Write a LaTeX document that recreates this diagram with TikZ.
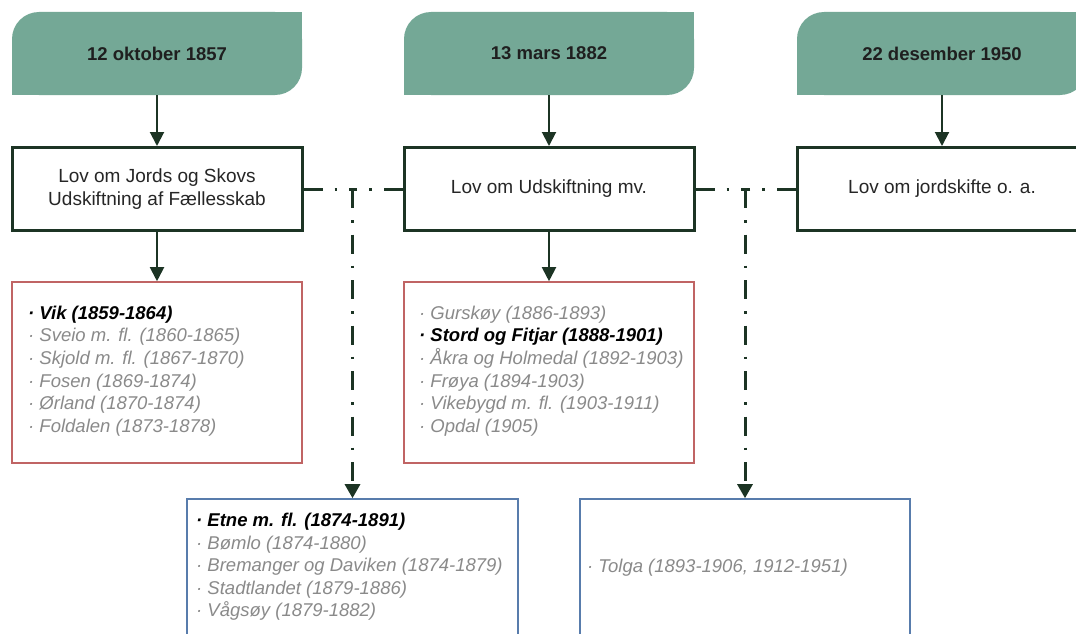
\documentclass[tikz,border=0pt]{standalone}
\usepackage{fontspec}
\setmainfont{Liberation Sans}
\usetikzlibrary{arrows.meta}
\definecolor{datefill}{RGB}{116,168,150}
\definecolor{lawdraw}{RGB}{28,52,36}
\definecolor{redline}{RGB}{192,100,100}
\definecolor{blueline}{RGB}{88,124,172}
\definecolor{greytext}{RGB}{138,138,138}
\newcommand{\hl}[1]{\textcolor{black}{\bfseries #1}}
\begin{document}
\begin{tikzpicture}[x=1pt,y=-1pt,
 datebox/.style={fill=datefill,rounded corners=27pt,minimum width=290pt,minimum height=83pt,inner sep=0pt,font=\fontsize{18.5}{22}\selectfont\bfseries,text=black!88},
 lawbox/.style={draw=lawdraw,line width=3pt,fill=white,minimum width=290pt,minimum height=83pt,inner sep=0pt,align=center,font=\fontsize{19}{22.5}\selectfont,text=black!85},
 redbox/.style={draw=redline,line width=1.6pt,minimum width=290pt,minimum height=181pt,inner sep=0pt},
 bluebox/.style={draw=blueline,line width=1.6pt,minimum height=138pt,inner sep=0pt},
 listtext/.style={anchor=west,align=left,inner sep=0pt,font=\fontsize{18.5}{22.6}\selectfont\itshape,text=greytext},
 solidarrow/.style={draw=lawdraw,line width=2pt,-{Triangle[length=14pt,width=14pt]}},
 dashdot/.style={draw=lawdraw,line width=3pt,dash pattern=on 19pt off 12pt on 2.5pt off 12pt},
]
\useasboundingbox (0,0) rectangle (1076,634);
\clip (0,0) rectangle (1076,634);
\fill[white] (0,0) rectangle (1076,634);

% date boxes
\node[datebox] (d1) at (157,53.5) {12 oktober 1857};
\node[datebox] (d2) at (549,53.5) {13 mars 1882};
\node[datebox] (d3) at (942,53.5) {22 desember 1950};
\foreach \d in {d1,d2,d3}{
  \fill[datefill] (\d.north east) rectangle ++(-29,29);
  \fill[datefill] (\d.south west) rectangle ++(29,-29);
}

% law boxes
\node[lawbox] (l1) at (157,189) {Lov om Jords og Skovs\\Udskiftning af Fællesskab};
\node[lawbox] (l2) at (549,189) {Lov om Udskiftning mv.};
\node[lawbox] (l3) at (942,189) {Lov om jordskifte o. a.};

% list boxes
\node[redbox] (r1) at (157,372.5) {};
\node[redbox] (r2) at (549,372.5) {};
\node[bluebox,minimum width=331pt] (b1) at (352.5,568) {};
\node[bluebox,minimum width=330pt] (b2) at (745,568) {};

\node[listtext] (r1t) at (28,371) {\hl{· Vik (1859-1864)}\\· Sveio m. fl. (1860-1865)\\· Skjold m. fl. (1867-1870)\\· Fosen (1869-1874)\\· Ørland (1870-1874)\\· Foldalen (1873-1878)};
\node[listtext] (r2t) at (419,371) {· Gurskøy (1886-1893)\\\hl{· Stord og Fitjar (1888-1901)}\\· Åkra og Holmedal (1892-1903)\\· Frøya (1894-1903)\\· Vikebygd m. fl. (1903-1911)\\· Opdal (1905)};
\node[listtext] (b1t) at (196,567) {\hl{· Etne m. fl. (1874-1891)}\\· Bømlo (1874-1880)\\· Bremanger og Daviken (1874-1879)\\· Stadtlandet (1879-1886)\\· Vågsøy (1879-1882)};
\node[listtext] (b2t) at (587,568) {· Tolga (1893-1906, 1912-1951)};

% solid arrows
\draw[solidarrow] (d1) -- (l1);
\draw[solidarrow] (d2) -- (l2);
\draw[solidarrow] (d3) -- (l3);
\draw[solidarrow] (l1) -- (r1);
\draw[solidarrow] (l2) -- (r2);

% dash-dot connectors
\coordinate (j1) at (b1.north |- l1.east);
\coordinate (j2) at (b2.north |- l2.east);
\draw[dashdot] (l1.east) -- (j1);
\draw[dashdot] (l2.west) -- (j1);
\draw[dashdot] (l2.east) -- (j2);
\draw[dashdot] (l3.west) -- (j2);
\draw[dashdot,-{Triangle[length=14pt,width=15pt]}] (j1) -- (b1.north);
\draw[dashdot,-{Triangle[length=14pt,width=15pt]}] (j2) -- (b2.north);
\end{tikzpicture}
\end{document}
